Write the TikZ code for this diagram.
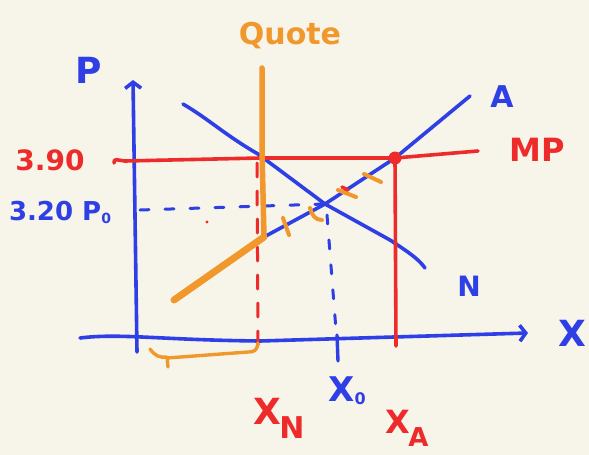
\documentclass[tikz,border=0pt]{standalone}
\usepackage{fontspec}
\setmainfont{DejaVu Sans}
\usetikzlibrary{arrows.meta}
\definecolor{bg}{HTML}{F7F4EA}
\definecolor{pblue}{HTML}{2F3FE6}
\definecolor{pred}{HTML}{EE2B2B}
\definecolor{porange}{HTML}{F0982C}
\begin{document}
\begin{tikzpicture}[x=1pt,y=-1pt,line cap=round,line join=round,
  bl/.style={draw=pblue,line width=3.6pt},
  rd/.style={draw=pred,line width=3.6pt},
  og/.style={draw=porange,line width=5.5pt},
  bldash/.style={draw=pblue,line width=3pt,dash pattern=on 9pt off 16pt},
  rddash/.style={draw=pred,line width=3pt,dash pattern=on 14pt off 14pt},
  hatch/.style={draw=porange,line width=4pt},
  lab/.style={inner sep=0pt},
  blab/.style={lab,text=pblue},
  rlab/.style={lab,text=pred},
  olab/.style={lab,text=porange},
  axarrow/.style={-{Straight Barb[length=6pt,width=16pt,line width=3.6pt]}}]
\fill[bg] (0,0) rectangle (589,455);
\useasboundingbox (0,0) rectangle (589,455);

% axes
\coordinate (yb) at (137,352);
\coordinate (yt) at (133,80);
\coordinate (xl) at (80,338);
\coordinate (xr) at (528,333);
\draw[bl,axarrow] (yb) -- (yt);
\draw[bl,axarrow] (xl) .. controls (120,333) and (160,340) .. (260,341) -- (xr);

% points
\coordinate (eq) at (325,204);
\coordinate (dot) at (395,158);
\coordinate (qtop) at (262,68);
\coordinate (qbend) at (264,237);
\coordinate (sbot) at (174,300);
\coordinate (stop) at (470,96);
\coordinate (dtop) at (183,104);
\coordinate (dbot) at (425,268);
\coordinate (mpl) at (114,163);
\coordinate (mpr) at (478,151);

% demand N
\draw[bl] (dtop) .. controls (210,120) and (225,135) .. (258,154) -- (eq) -- (390,240) .. controls (405,250) and (418,258) .. (dbot);
% supply A
\draw[bl] (sbot) -- (qbend) -- (eq) -- (dot) -- (stop);

% MP line
\draw[rd] (mpl) .. controls (114,158) and (116,160) .. (125,161) -- (260,158) -- (dot) -- (mpr);
\fill[pred] (dot) circle (6.5pt);
\coordinate (xa) at (396,346);
\draw[rd] (dot) -- (xa);

% dashed guides
\coordinate (p0) at (140,210);
\draw[bldash] (p0) -- (eq);
\coordinate (x0) at (336,330);
\draw[bldash] (327,215) -- (x0);
\coordinate (xntop) at (257,163);
\coordinate (xnbot) at (258,345);
\draw[rddash] (xntop) -- (xnbot);
\draw[pblue,line width=3.4pt] (337,335) -- (338,361);
\fill[pred] (207,222) circle (1.6pt);

% quota
\draw[og] (qtop) -- (262,150) -- (qbend);
\draw[draw=porange,line width=7pt] (qbend) -- (sbot);
\draw[hatch] (283,218) -- (289,235);
\draw[hatch] (310,208) .. controls (312,215) and (315,220) .. (322,220);
\draw[hatch] (338,190) -- (356,197);
\draw[pred,line width=3.5pt] (342,187) -- (348,190);
\draw[hatch] (364,174) -- (381,182);
% brace
\draw[draw=porange,line width=3.4pt] (150,349) .. controls (155,356) and (160,358) .. (167,357) -- (168,367) (167,358) -- (248,352) .. controls (255,352) and (257,350) .. (258,343);

% labels
\node[blab,font=\bfseries\fontsize{36}{36}\selectfont] (lp) at (89,70) {P};
\node[blab,font=\bfseries\fontsize{36}{36}\selectfont] (lx) at (572,333) {X};
\node[blab,font=\bfseries\fontsize{30}{30}\selectfont] (la) at (502,97) {A};
\node[blab,font=\bfseries\fontsize{28}{28}\selectfont] (ln) at (469,286) {N};
\node[rlab,font=\bfseries\fontsize{32}{32}\selectfont] (lmp) at (537,150) {MP};
\node[rlab,font=\bfseries\fontsize{28}{28}\selectfont] (l390) at (50,160) {3.90};
\node[blab,font=\bfseries\fontsize{26}{26}\selectfont] (l320) at (60,212) {3.20 P\raisebox{-3pt}{\fontsize{14}{14}\selectfont 0}};
\node[olab,font=\bfseries\fontsize{30}{30}\selectfont] (lq) at (290,36) {Quote};
\node[rlab,font=\bfseries\fontsize{36}{36}\selectfont] (lxn) at (279,418) {X\kern-2pt\raisebox{-14pt}{\fontsize{30}{30}\selectfont N}};
\node[blab,font=\bfseries\fontsize{34}{34}\selectfont] (lx0) at (347,391) {X\raisebox{-3pt}{\fontsize{16}{16}\selectfont 0}};
\node[rlab,font=\bfseries\fontsize{32}{32}\selectfont] (lxa) at (407,428) {X\kern-2pt\raisebox{-13pt}{\fontsize{26}{26}\selectfont A}};
\end{tikzpicture}
\end{document}
